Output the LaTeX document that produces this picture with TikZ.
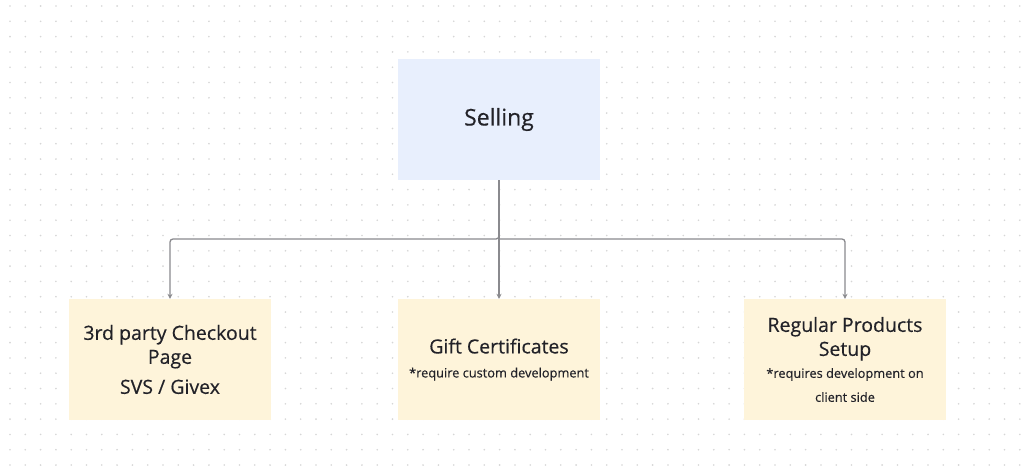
\documentclass[tikz,border=0pt]{standalone}
\usepackage{fontspec}
\setmainfont{Open Sans}
\usetikzlibrary{arrows.meta}
\definecolor{bluebox}{HTML}{E8EFFD}
\definecolor{yelbox}{HTML}{FEF4DA}
\definecolor{conn}{HTML}{8A8A8E}
\definecolor{dotc}{HTML}{D6D6D6}
\definecolor{txt}{HTML}{222228}
\newcommand{\bigt}{\fontsize{19.5}{24}\selectfont\addfontfeature{FakeBold=0.4}}
\newcommand{\smallt}{\fontsize{12.8}{21}\selectfont}
\tikzset{
  box/.style={minimum width=202pt,minimum height=121pt,inner sep=0pt,align=center,text=txt},
  conn/.style={draw=conn,line width=1.3pt,rounded corners=3pt,-{Stealth[length=5pt,width=5pt]}}
}
\begin{document}
\begin{tikzpicture}[x=1pt,y=-1pt]
\useasboundingbox[fill=white] (0,0) rectangle (1024,471);
\foreach \i in {0,...,67}{\foreach \j in {0,...,31}{
  \fill[dotc] (10+\i*15.3,6+\j*15.3) circle (0.9);}}
\node[box,fill=bluebox,font=\fontsize{23}{28}\selectfont\addfontfeature{FakeBold=0.4}] (sell) at (499,119.5) {Selling};
\node[box,fill=yelbox,font=\bigt] (a) at (170,359.5) {3rd party Checkout\\Page\\[6pt]SVS / Givex};
\node[box,fill=yelbox,font=\bigt] (b) at (499,359.5) {Gift Certificates\\{\smallt *require custom development}};
\node[box,fill=yelbox,font=\bigt] (c) at (845,359.5) {Regular Products\\Setup\\[-2pt]{\smallt *requires development on}\\{\smallt client side}};
\coordinate (j) at (499,239);
\draw[conn] (sell.south) -- (j) -| (a.north);
\draw[conn] (sell.south) -- (b.north);
\draw[conn] (j) -| (c.north);
\end{tikzpicture}
\end{document}
